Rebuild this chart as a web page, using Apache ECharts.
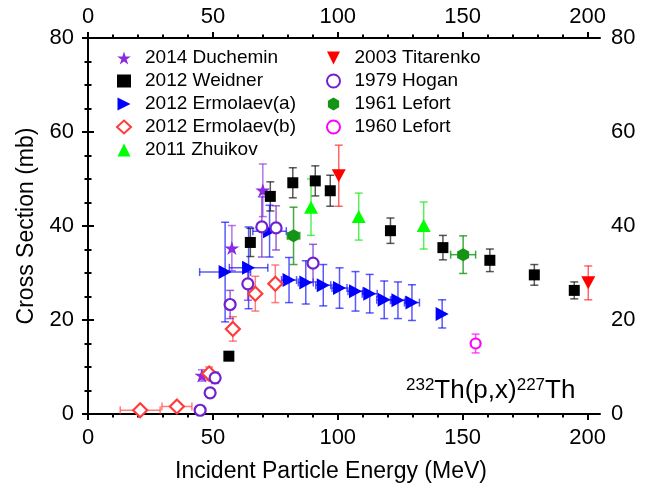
<!DOCTYPE html>
<html>
<head>
<meta charset="utf-8">
<script src="https://cdn.jsdelivr.net/npm/echarts@6/dist/echarts.min.js"></script>
<style>
  html, body { margin: 0; padding: 0; background: #fff; }
  #chart { width: 655px; height: 491px; }
</style>
</head>
<body>
<div id="chart"></div>
<script>
// Each point: [energy (MeV), cross section (mb), cross-section error, energy error]
const duchemin2014 = [[45.6, 8.2, 1.2, 0], [57.6, 35.3, 4.8, 0], [70.0, 47.6, 5.6, 0]];
const weidner2012 = [[56.4, 12.3, 0.6, 0], [65.0, 36.5, 3.0, 0], [73.0, 46.3, 3.1, 0], [82.0, 49.2, 3.2, 0],
  [91.0, 49.6, 3.2, 0], [97.0, 47.5, 3.3, 0], [121.1, 39.0, 2.7, 0], [142.1, 35.4, 2.6, 0],
  [160.9, 32.7, 2.4, 0], [178.7, 29.6, 2.2, 0], [194.7, 26.3, 1.8, 0]];
const ermolaevA2012 = [[54.9, 30.2, 10.6, 10.2], [64.3, 31.1, 8.7, 7.7], [72.7, 38.9, 5.5, 6.7],
  [80.5, 28.5, 4.8, 3], [87.2, 28.0, 4.6, 3], [94.2, 27.4, 4.4, 3], [100.7, 26.8, 4.3, 3],
  [107.1, 26.1, 4.2, 3], [112.8, 25.6, 4.1, 3], [118.6, 24.3, 4.0, 3], [124.1, 24.2, 3.9, 3],
  [129.7, 23.7, 3.8, 3], [141.8, 21.3, 3.0, 0]];
const ermolaevB2012 = [[20.9, 0.8, 0.5, 8.0], [35.6, 1.6, 0.5, 6.0], [48.5, 8.6, 1.4, 0],
  [58.0, 18.1, 2.6, 0], [67.0, 25.6, 3.7, 0], [75.0, 27.7, 4.0, 0]];
const zhuikov2011 = [[89.3, 44.0, 6.0, 0], [108.4, 42.0, 5.0, 0], [134.4, 40.1, 5.0, 0]];
const titarenko2003 = [[100.4, 50.7, 6.5, 0], [200.3, 27.9, 3.6, 0]];
const hogan1979 = [[44.9, 0.8, 0.3, 0], [48.9, 4.5, 0.5, 0], [50.9, 7.7, 1.2, 0], [56.9, 23.3, 3.0, 0],
  [64.0, 27.7, 3.5, 0], [69.6, 39.8, 6.4, 0], [75.3, 39.6, 4.7, 0], [90.1, 32.1, 4.0, 0]];
const lefort1961 = [[82.3, 37.9, 6.1, 2.5], [150.2, 33.9, 4.0, 5.0]];
const lefort1960 = [[155.2, 15.0, 2.0, 0]];

// Axis ticks
const xMajorTicks = [0, 50, 100, 150, 200];
const xMinorTicks = [10, 20, 30, 40, 60, 70, 80, 90, 110, 120, 130, 140, 160, 170, 180, 190];
const yTickStep = 20;

const FONT = '"Liberation Sans", Arial, Helvetica, sans-serif';

const STAR = 'path://M50,0L61.2,34.5L97.6,34.5L68.2,55.9L79.4,90.5L50,69.1L20.6,90.5L31.8,55.9L2.4,34.5L38.8,34.5Z';
const TRI_RIGHT = 'path://M0,0L100,50L0,100Z';
const TRI_UP = 'path://M50,0L100,100L0,100Z';
const TRI_DOWN = 'path://M0,0L100,0L50,100Z';
const HEX = 'path://M50,0L93.3,25L93.3,75L50,100L6.7,75L6.7,25Z';

const sets = [
  { name: '2014 Duchemin', data: duchemin2014, symbol: STAR, size: [15, 14], color: '#8a2be2', err: 'rgba(138,43,226,0.65)' },
  { name: '2012 Weidner', data: weidner2012, symbol: 'rect', size: 11, color: '#000000', err: 'rgba(0,0,0,0.65)' },
  { name: '2012 Ermolaev(a)', data: ermolaevA2012, symbol: TRI_RIGHT, size: [13, 14], color: '#0000ff', err: 'rgba(0,0,255,0.65)' },
  { name: '2012 Ermolaev(b)', data: ermolaevB2012, symbol: 'diamond', size: 14, color: '#ff3b3b', err: 'rgba(255,59,59,0.65)', hollow: true },
  { name: '2011 Zhuikov', data: zhuikov2011, symbol: TRI_UP, size: [14, 13], color: '#00ff00', err: 'rgba(0,230,0,0.65)' },
  { name: '2003 Titarenko', data: titarenko2003, symbol: TRI_DOWN, size: [14, 13], color: '#ff0000', err: 'rgba(255,0,0,0.6)' },
  { name: '1979 Hogan', data: hogan1979, symbol: 'circle', size: 11, color: '#7020d0', err: 'rgba(112,32,208,0.7)', hollow: true },
  { name: '1961 Lefort', data: lefort1961, symbol: HEX, size: [12, 13], color: '#149414', err: 'rgba(20,148,20,0.8)' },
  { name: '1960 Lefort', data: lefort1960, symbol: 'circle', size: 10, color: '#ff00ff', err: 'rgba(255,0,255,0.7)', hollow: true }
];

function errorBars(s) {
  return {
    type: 'custom',
    name: s.name + ' error',
    silent: true,
    z: 1,
    data: s.data,
    encode: { x: 0, y: 1 },
    renderItem: function (params, api) {
      const x = api.value(0), y = api.value(1), dy = api.value(2), dx = api.value(3);
      const cap = 4;
      const st = { stroke: s.err, lineWidth: 1.5, fill: null };
      const kids = [];
      if (dy > 0) {
        const t = api.coord([x, y + dy]), b = api.coord([x, y - dy]);
        kids.push({ type: 'line', shape: { x1: t[0], y1: t[1], x2: b[0], y2: b[1] }, style: st });
        kids.push({ type: 'line', shape: { x1: t[0] - cap, y1: t[1], x2: t[0] + cap, y2: t[1] }, style: st });
        kids.push({ type: 'line', shape: { x1: b[0] - cap, y1: b[1], x2: b[0] + cap, y2: b[1] }, style: st });
      }
      if (dx > 0) {
        const l = api.coord([x - dx, y]), r = api.coord([x + dx, y]);
        kids.push({ type: 'line', shape: { x1: l[0], y1: l[1], x2: r[0], y2: r[1] }, style: st });
        kids.push({ type: 'line', shape: { x1: l[0], y1: l[1] - cap, x2: l[0], y2: l[1] + cap }, style: st });
        kids.push({ type: 'line', shape: { x1: r[0], y1: r[1] - cap, x2: r[0], y2: r[1] + cap }, style: st });
      }
      return { type: 'group', children: kids };
    }
  };
}

function markers(s) {
  return {
    type: 'scatter',
    name: s.name,
    z: 3,
    data: s.data,
    encode: { x: 0, y: 1 },
    symbol: s.symbol,
    symbolSize: s.size,
    itemStyle: s.hollow
      ? { color: '#ffffff', borderColor: s.color, borderWidth: 2.2, opacity: 1 }
      : { color: s.color, opacity: 1 },
    emphasis: { disabled: true }
  };
}

const series = [];
sets.forEach(s => series.push(errorBars(s)));
sets.forEach(s => series.push(markers(s)));

const axisLineStyle = { color: '#000', width: 2 };
const tickLabel = { color: '#000', fontFamily: FONT, fontSize: 22 };

function xAxisMajor(pos, withName) {
  const ax = {
    type: 'value', position: pos, min: 0, max: 205,
    axisLine: { show: true, lineStyle: axisLineStyle },
    axisTick: { show: true, inside: false, length: 6, lineStyle: { color: '#000', width: 2 }, customValues: xMajorTicks },
    axisLabel: Object.assign({ margin: pos === 'bottom' ? 13 : 10, customValues: xMajorTicks }, tickLabel),
    splitLine: { show: false }
  };
  if (withName) {
    Object.assign(ax, {
      name: 'Incident Particle Energy (MeV)', nameLocation: 'middle', nameGap: 46,
      nameTextStyle: { color: '#000', fontFamily: FONT, fontSize: 23, padding: [0, 26, 0, 0] }
    });
  }
  return ax;
}
function xAxisMinor(pos) {
  return {
    type: 'value', position: pos, min: 0, max: 205,
    axisLine: { show: false },
    axisTick: { show: true, inside: false, length: 3.5, lineStyle: { color: '#000', width: 2 }, customValues: xMinorTicks },
    axisLabel: { show: false },
    splitLine: { show: false }
  };
}
function yAxis(pos, withName) {
  const ax = {
    type: 'value', position: pos, min: 0, max: 80, interval: yTickStep,
    axisLine: { show: true, lineStyle: axisLineStyle },
    axisTick: { show: true, inside: false, length: 6, lineStyle: { color: '#000', width: 2 } },
    minorTick: { show: true, splitNumber: 4, length: 3.5, lineStyle: { color: '#000', width: 2 } },
    axisLabel: Object.assign({ margin: pos === 'left' ? 14 : 11 }, tickLabel),
    splitLine: { show: false }
  };
  if (withName) {
    Object.assign(ax, {
      name: 'Cross Section (mb)', nameLocation: 'middle', nameGap: 48,
      nameTextStyle: { color: '#000', fontFamily: FONT, fontSize: 23 }
    });
  }
  return ax;
}

const legendText = { color: '#000', fontFamily: FONT, fontSize: 19, lineHeight: 20, padding: [0, 0, 0, 9] };

const chart = echarts.init(document.getElementById('chart'), null, { renderer: 'canvas' });
chart.setOption({
  animation: false,
  backgroundColor: '#fff',
  grid: { left: 88, top: 38, width: 512, height: 376 },
  title: {
    text: '{s|232}{m|Th(p,x)}{s|227}{m|Th}',
    left: 401, top: 372,
    textStyle: {
      fontWeight: 'normal',
      rich: {
        s: { fontFamily: FONT, fontWeight: 'normal', fontSize: 17, color: '#000', verticalAlign: 'top', lineHeight: 28, padding: [0, 0, 10, 0] },
        m: { fontFamily: FONT, fontWeight: 'normal', fontSize: 26, color: '#000', lineHeight: 28 }
      }
    }
  },
  legend: [
    {
      orient: 'vertical', left: 111, top: 43, itemWidth: 14, itemHeight: 13, itemGap: 3,
      selectedMode: false, textStyle: legendText,
      data: sets.slice(0, 5).map(s => s.name)
    },
    {
      orient: 'vertical', left: 321, top: 43, itemWidth: 14, itemHeight: 13, itemGap: 3,
      selectedMode: false, textStyle: legendText,
      data: sets.slice(5).map(s => s.name)
    }
  ],
  xAxis: [xAxisMajor('bottom', true), xAxisMinor('bottom'), xAxisMajor('top', false), xAxisMinor('top')],
  yAxis: [yAxis('left', true), yAxis('right', false)],
  series: series
});
</script>
</body>
</html>
